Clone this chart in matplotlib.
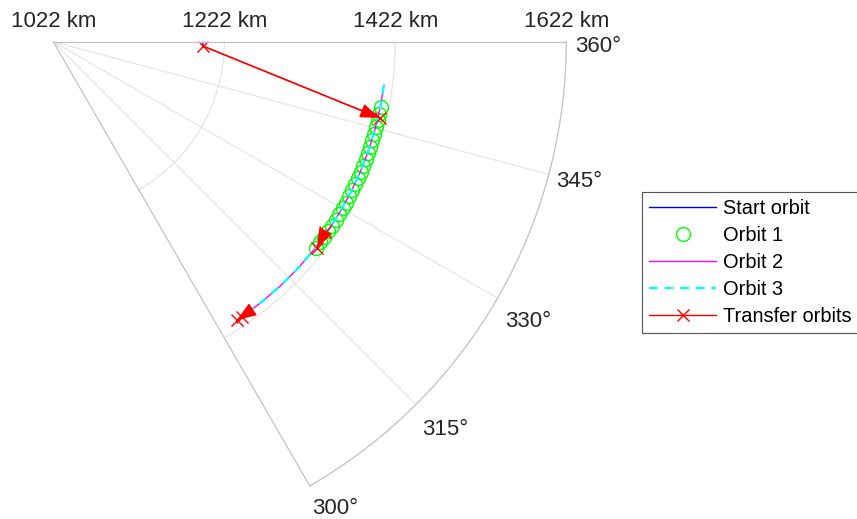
import numpy as np
import matplotlib
matplotlib.use("Agg")  # no display
import matplotlib.pyplot as plt

plt.rcParams["font.family"] = ["Liberation Sans", "DejaVu Sans"]

# ---------------------------------------------------------------------------
# Data (theta in degrees, r in km)
# ---------------------------------------------------------------------------
start_theta = [358.35, 361.0]
start_r = [1197.0, 1197.0]

orbit1_theta = [348.7, 347.5, 346.4, 345.2, 344.0, 342.9, 341.7, 340.5,
                339.4, 338.2, 337.1, 335.9, 334.7, 333.6, 332.4, 331.2,
                330.1, 328.9, 327.8, 326.6, 325.4, 324.3, 323.1, 321.9]
orbit1_r = 1412.5

orbit2_theta = [352.5, 349.0, 345.0, 341.0, 337.0, 333.0, 329.0, 325.0,
                321.0, 317.0, 313.0, 309.0, 305.0, 303.4]
orbit2_r = 1412.0

orbit3_theta = [352.5, 349.0, 345.0, 341.0, 337.0, 333.0, 329.0, 325.0,
                321.0, 317.0, 313.0, 309.0, 305.0, 303.4]
orbit3_r = 1412.0

# transfer legs: (theta start, theta end), (r start, r end)
transfer_theta = [(358.35, 346.85), (325.0, 321.96), (304.4, 303.4)]
transfer_r = [(1197.0, 1414.0), (1410.0, 1413.6), (1412.0, 1412.0)]

r_ticks = [1022, 1222, 1422, 1622]
theta_ticks = [300, 315, 330, 345, 360]

TEXT = "#262626"
rad = np.deg2rad


def main():
    fig = plt.figure(figsize=(8.57, 5.19), dpi=100)
    # polar wedge bbox is squared by matplotlib -> give it a square box
    # centred on where the wedge sits in the reference
    side = 513.0
    cy = (41.7 + 486.0) / 2
    ax = fig.add_axes([53.3 / 857, (519 - (cy + side / 2)) / 519,
                       side / 857, side / 519], projection="polar")
    ax.set_thetamin(300)
    ax.set_thetamax(360)
    ax.set_rlim(1022, 1622)

    # ---- grid / frame ------------------------------------------------------
    ax.set_rticks(r_ticks[1:])
    ax.set_xticks(rad(theta_ticks[1:-1]))
    ax.set_yticklabels([])
    ax.set_xticklabels([])
    ax.tick_params(length=0)
    ax.grid(True, color="#e3e3e3", linewidth=0.8)
    for sp in ax.spines.values():
        sp.set_color("#c4c4c4")
        sp.set_linewidth(0.9)

    # ---- orbits ------------------------------------------------------------
    ax.plot(rad(start_theta), start_r, color="#0000ff", lw=1.0,
            label="Start orbit")
    ax.plot(rad(orbit1_theta), np.full(len(orbit1_theta), orbit1_r),
            linestyle="none", marker="o", markersize=10, mfc="none",
            mec="#00ff00", mew=1.0, label="Orbit 1")
    ax.plot(rad(orbit2_theta), np.full(len(orbit2_theta), orbit2_r),
            color="#ff00ff", lw=1.0, label="Orbit 2")
    ax.plot(rad(orbit3_theta), np.full(len(orbit3_theta), orbit3_r),
            color="#00ffff", lw=1.6, linestyle=(0, (4, 3)), label="Orbit 3")

    # ---- transfer orbits with arrows ---------------------------------------
    for i, (th, rr) in enumerate(zip(transfer_theta, transfer_r)):
        ax.plot(rad(th), rr, color="#ff0000", lw=1.0, marker="x",
                markersize=8, mew=1.0,
                label="Transfer orbits" if i == 0 else None)
        ax.annotate("", xy=(rad(th[1]), rr[1]), xytext=(rad(th[0]), rr[0]),
                    arrowprops=dict(arrowstyle="-|>,head_length=0.6,head_width=0.22",
                                    color="#ff0000", lw=1.0, mutation_scale=20,
                                    shrinkA=0, shrinkB=0))

    # ---- radial labels along the 360 deg edge ------------------------------
    for r in r_ticks:
        ax.annotate(f"{r} km", xy=(0.0, r), xytext=(0, 14.4),
                    textcoords="offset pixels", ha="center", va="baseline",
                    fontsize=16, color=TEXT, annotation_clip=False)

    # ---- angle labels outside the arc --------------------------------------
    theta_offsets = {360: (9, -10), 345: (7, -12.2), 330: (7.4, -28.5),
                     315: (6, -30.6), 300: (2.2, -28.5)}
    for t in theta_ticks:
        ax.annotate(f"{t}°", xy=(rad(t), 1622), xytext=theta_offsets[t],
                    textcoords="offset pixels", ha="left", va="baseline",
                    fontsize=16, color=TEXT, annotation_clip=False)

    # ---- legend ------------------------------------------------------------
    leg = ax.legend(loc="upper left", bbox_to_anchor=(642 / 857, 1 - 192 / 519),
                    bbox_transform=fig.transFigure, fontsize=14.4,
                    handlelength=3.35, handletextpad=0.35, labelspacing=0.4,
                    borderpad=0.35, borderaxespad=0, fancybox=False,
                    framealpha=1, edgecolor="#555555")
    leg.get_frame().set_linewidth(0.8)
    for txt in leg.get_texts():
        txt.set_color("#000000")

    fig.savefig("out.png", dpi=100)
    plt.close(fig)


if __name__ == "__main__":
    main()
